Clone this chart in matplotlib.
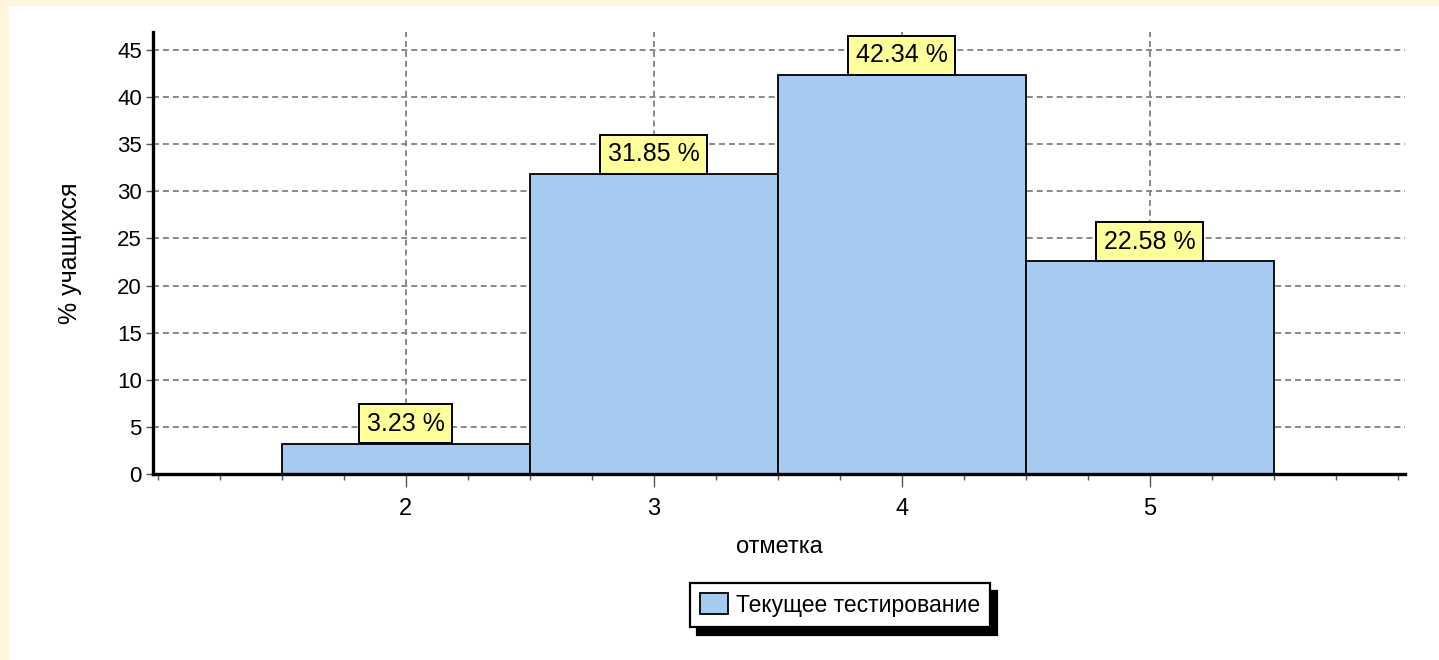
import matplotlib
matplotlib.use('Agg')
import matplotlib.pyplot as plt
from matplotlib import font_manager
from matplotlib.patches import Rectangle
from matplotlib.ticker import MultipleLocator

# data
marks = [2, 3, 4, 5]
percent = [3.23, 31.85, 42.34, 22.58]
labels = ['3.23 %', '31.85 %', '42.34 %', '22.58 %']
series_name = 'Текущее тестирование'
xlabel = 'отметка'
ylabel = '% учащихся'

names = set(f.name for f in font_manager.fontManager.ttflist)
fam = 'Liberation Sans Narrow' if 'Liberation Sans Narrow' in names else 'Liberation Sans'
plt.rcParams['font.family'] = [fam, 'DejaVu Sans']

fig = plt.figure(figsize=(14.39, 6.6), dpi=100, facecolor='#FFF4DC')
# white panel, cream band on top and left
fig.patches.append(Rectangle((9 / 1439, 0), 1, 1 - 6 / 660, transform=fig.transFigure,
                             facecolor='white', edgecolor='none', zorder=-10))

ax = fig.add_axes([153 / 1439, 1 - 474 / 660, (1405 - 153) / 1439, (474 - 32) / 660])
ax.set_facecolor('none')

ax.bar(marks, percent, width=1.0, color='#A6CAF0', edgecolor='black', linewidth=1.3,
       zorder=3, label=series_name)

for x, v, t in zip(marks, percent, labels):
    ax.annotate(t, xy=(x, v), xytext=(0, 5.5), textcoords='offset points',
                ha='center', va='bottom', fontsize=18, zorder=5,
                bbox=dict(boxstyle='square,pad=0.3', facecolor='#FFFF99',
                          edgecolor='black', linewidth=1.4))

ax.set_xlim(0.98, 6.03)
ax.set_ylim(0, 46.9)
ax.set_xticks(marks)
ax.xaxis.set_minor_locator(MultipleLocator(0.25))
ax.yaxis.set_major_locator(MultipleLocator(5))

ax.grid(True, which='major', color='#808080', linestyle=(0, (3.3, 2.2)), linewidth=1.3, zorder=1)
ax.set_axisbelow(True)

for s in ['top', 'right']:
    ax.spines[s].set_visible(False)
for s in ['left', 'bottom']:
    ax.spines[s].set_linewidth(2.4)
    ax.spines[s].set_zorder(4)

ax.tick_params(axis='x', which='major', length=9, width=1, color='#555555', labelsize=17, pad=8)
ax.tick_params(axis='x', which='minor', length=4, width=1, color='#555555')
ax.tick_params(axis='y', which='major', length=5, width=1, color='#555555', labelsize=16, pad=3)

ax.set_xlabel(xlabel, fontsize=17, labelpad=12)
ax.set_ylabel(ylabel, fontsize=18, labelpad=25)

leg = ax.legend(loc='center', bbox_to_anchor=(840 / 1439, 1 - 605 / 660),
                bbox_transform=fig.transFigure, fontsize=16.5, fancybox=False,
                frameon=True, edgecolor='black', handlelength=1.2, handleheight=1.0,
                handletextpad=0.35, borderpad=0.45,
                shadow={'ox': 5, 'oy': -5.5, 'color': 'black', 'alpha': 1})
leg.get_frame().set_linewidth(1.6)
leg.get_frame().set_alpha(1)

fig.savefig('out.png', dpi=100, facecolor=fig.get_facecolor())
